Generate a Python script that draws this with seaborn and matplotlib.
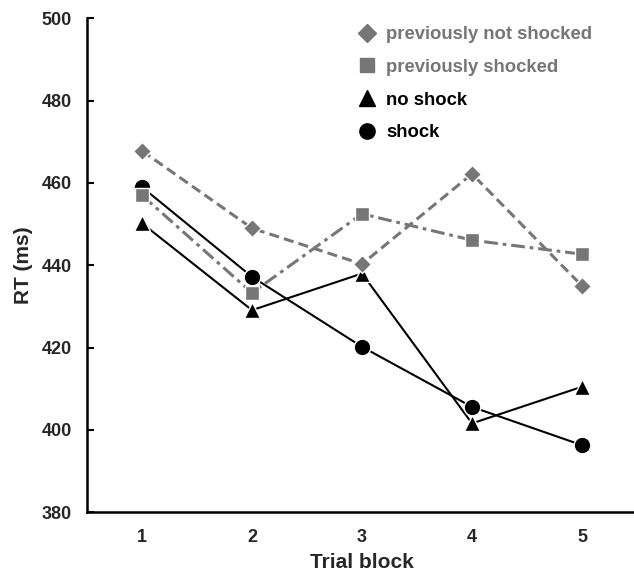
import matplotlib
matplotlib.use("Agg")
import matplotlib.pyplot as plt
from matplotlib.lines import Line2D
import seaborn as sns
import pandas as pd

blocks = [1, 2, 3, 4, 5]
prev_not_shocked = [467.8, 449.0, 440.3, 462.2, 435.0]
prev_shocked = [457.0, 433.3, 452.5, 446.1, 442.7]
no_shock = [450.2, 429.1, 438.0, 401.6, 410.5]
shock = [459.0, 437.2, 420.2, 405.6, 396.3]
y_ticks = [380, 400, 420, 440, 460, 480, 500]

sns.set_style("white")
plt.rcParams['font.family'] = ['Liberation Sans', 'DejaVu Sans']
plt.rcParams['font.weight'] = 'bold'

GRAY = '#767676'
fig = plt.figure(figsize=(6.34, 5.75), dpi=100)
ax = fig.add_axes([87/634, 62.7/575, 550/634, (512.3-18.3)/575])

series = [
    ("no shock", no_shock, 'black', '^', 11.5, '-', 1.5),
    ("shock", shock, 'black', 'o', 12.0, '-', 1.5),
    ("previously shocked", prev_shocked, GRAY, 's', 10.0, (0, (4.5, 1.6, 1.2, 1.6)), 2.2),
    ("previously not shocked", prev_not_shocked, GRAY, 'D', 9.0, (0, (3.3, 1.7)), 2.2),
]
for name, vals, col, mk, ms, ls, lw in series:
    df = pd.DataFrame({"block": blocks, "RT": vals})
    sns.lineplot(data=df, x="block", y="RT", ax=ax, color=col, marker=mk,
                 markersize=ms, markeredgecolor='white', markeredgewidth=1.0,
                 linestyle=ls, linewidth=lw, sort=False)

ax.set_xlim(0.5, 5.5)
ax.set_ylim(380, 500)
ax.set_yticks(y_ticks)
ax.set_xticks(blocks)
ax.set_xticks([1.5, 2.5, 3.5, 4.5], minor=True)
ax.tick_params(axis='x', which='major', length=0, pad=12, labelsize=13)
ax.tick_params(axis='x', which='minor', length=5, width=1.5, direction='in', color='black')
ax.tick_params(axis='y', which='major', length=5, width=1.5, direction='in', pad=11,
               labelsize=13, color='black', left=True)
for lab in ax.get_xticklabels() + ax.get_yticklabels():
    lab.set_fontweight('bold')
for s in ['top', 'right']:
    ax.spines[s].set_visible(False)
for s in ['left', 'bottom']:
    ax.spines[s].set_color('black')
    ax.spines[s].set_linewidth(1.8)
ax.set_xlabel("Trial block", fontsize=15, fontweight='bold', labelpad=5)
ax.set_ylabel("RT (ms)", fontsize=15, fontweight='bold', labelpad=6)

handles = [
    Line2D([], [], color=GRAY, marker='D', linestyle='none', markersize=9, markeredgecolor=GRAY),
    Line2D([], [], color=GRAY, marker='s', linestyle='none', markersize=10, markeredgecolor=GRAY),
    Line2D([], [], color='black', marker='^', linestyle='none', markersize=11, markeredgecolor='black'),
    Line2D([], [], color='black', marker='o', linestyle='none', markersize=11, markeredgecolor='black'),
]
labels = ["previously not shocked", "previously shocked", "no shock", "shock"]
leg = ax.legend(handles, labels, loc='upper left', bbox_to_anchor=(349/634, 1 - 17/575),
                bbox_transform=fig.transFigure, frameon=False, fontsize=13.3,
                labelspacing=0.85, handlelength=1.0, handletextpad=0.5, borderpad=0,
                labelcolor=[GRAY, GRAY, 'black', 'black'])
for t in leg.get_texts():
    t.set_fontweight('bold')

fig.savefig("out.png", dpi=100)
